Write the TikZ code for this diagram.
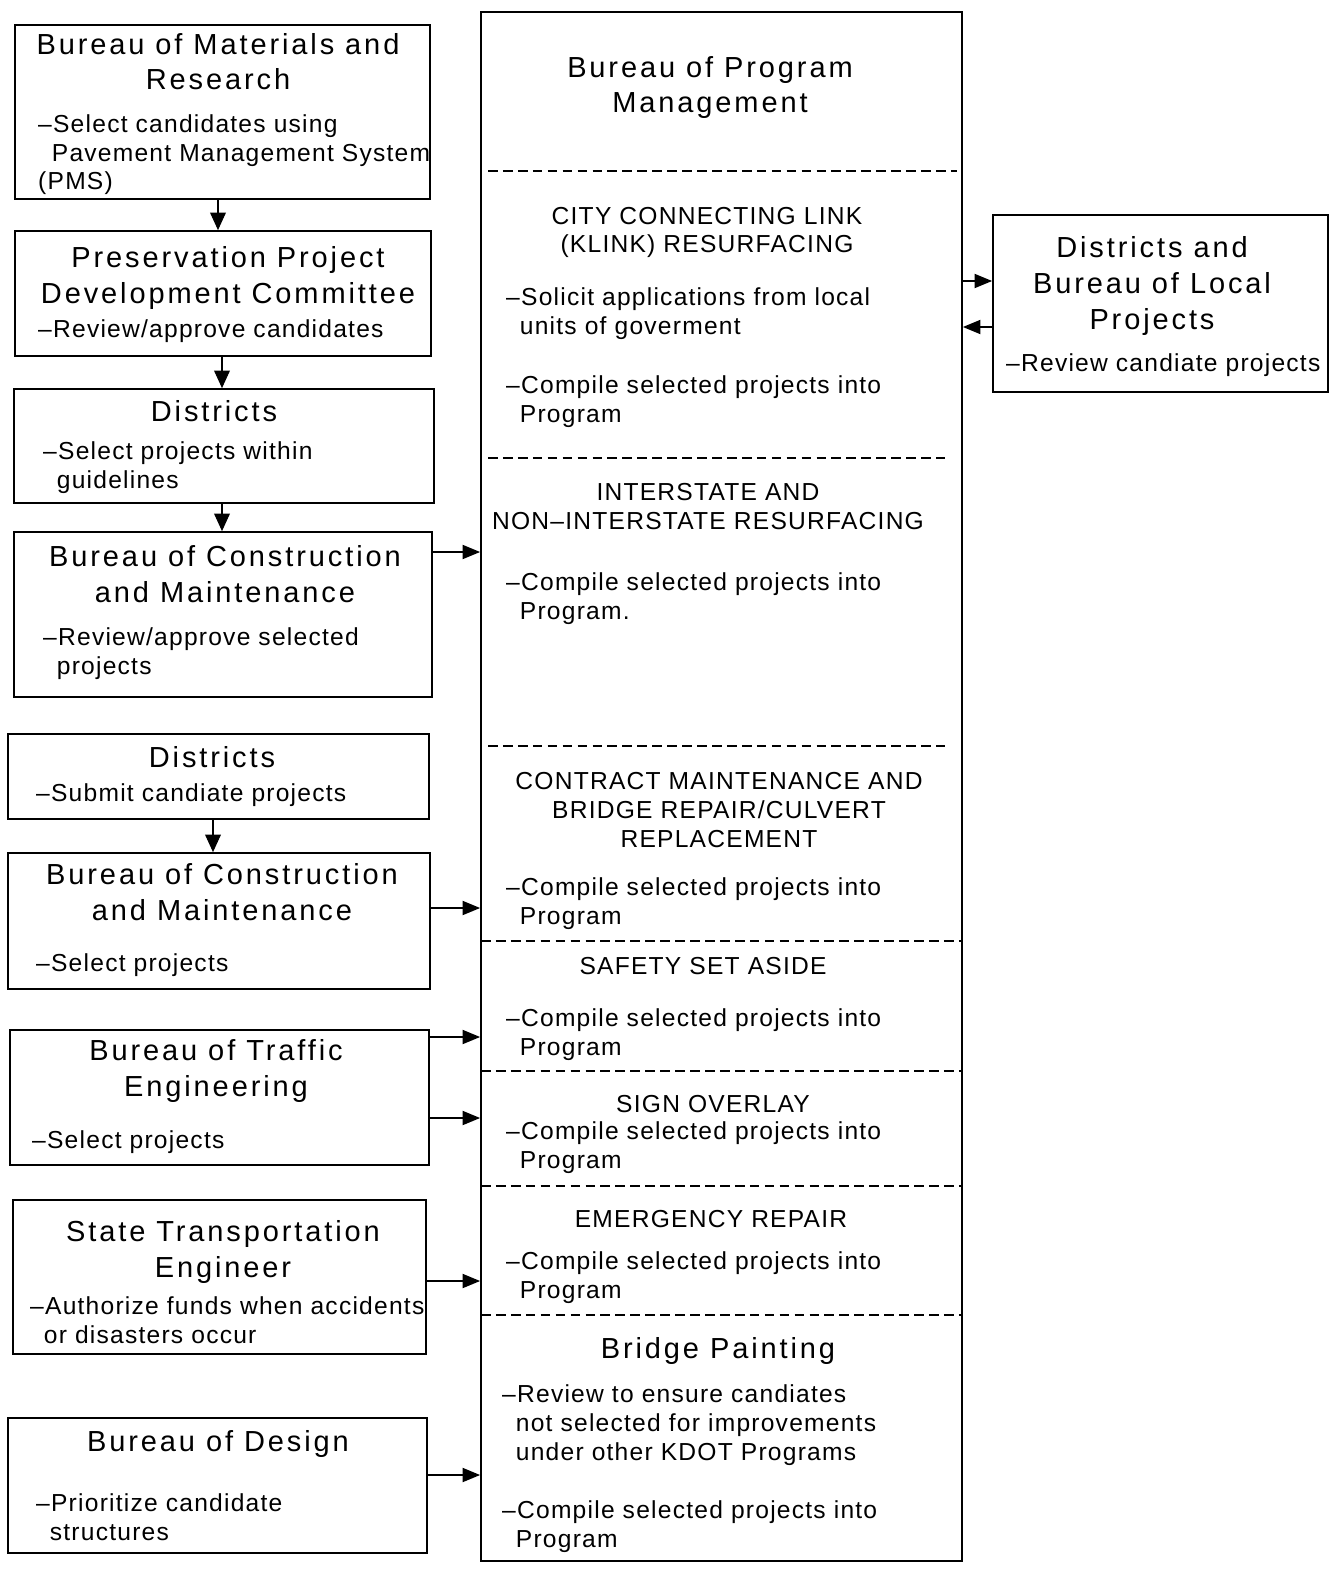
\documentclass[tikz,border=0pt]{standalone}
\usepackage{fontspec}
\setmainfont{Liberation Sans}
\newfontfamily\headfnt{Liberation Sans}[LetterSpace=10]
\newfontfamily\bodyfnt{Liberation Sans}[LetterSpace=5]
\usetikzlibrary{arrows.meta,fit}
\tikzset{
  unit/.style={draw,line width=1pt,inner sep=0pt},
  head/.style={align=center,anchor=base,font={\headfnt\fontsize{16.5}{20.4}\selectfont}},
  caps/.style={align=center,anchor=base,font={\bodyfnt\fontsize{14}{16.4}\selectfont}},
  duty/.style={align=left,anchor=base west,font={\bodyfnt\fontsize{14}{16.4}\selectfont}},
  divider/.style={line width=0.8pt,dash pattern=on 5.5pt off 3pt},
  feed/.style={line width=1pt,-{Triangle[length=10pt,width=8pt]}},
  down/.style={line width=0.6pt,-{Triangle[length=10pt,width=9pt]}},
}
\newcommand{\ind}{\phantom{–}}
\begin{document}
\begin{tikzpicture}[x=0.02cm,y=-0.02cm]
  \useasboundingbox (0,0) rectangle (1334,1571);

  % left column (text nodes sit on the baseline of their last line)
  \node[unit, fit={(15,25) (430,199)}] (bmr) {};
  \node[head] (bmrT) at (218,90) {Bureau of Materials and\\Research};
  \node[duty] (bmrB) at (32,190) {–Select candidates using\\\ind Pavement Management System\\(PMS)};

  \node[unit, fit={(15,231) (431,356)}] (ppdc) {};
  \node[head] (ppdcT) at (228,303) {Preservation Project\\Development Committee};
  \node[duty] (ppdcB) at (32,337) {–Review/approve candidates};

  \node[unit, fit={(14,389) (434,503)}] (dis1) {};
  \node[head] (dis1T) at (214,421) {Districts};
  \node[duty] (dis1B) at (37,488) {–Select projects within\\\ind guidelines};

  \node[unit, fit={(14,532) (432,697)}] (bcm1) {};
  \node[head] (bcm1T) at (225,602) {Bureau of Construction\\and Maintenance};
  \node[duty] (bcm1B) at (37,674) {–Review/approve selected\\\ind projects};

  \node[unit, fit={(8,734) (429,819)}] (dis2) {};
  \node[head] (dis2T) at (212,767) {Districts};
  \node[duty] (dis2B) at (30,801) {–Submit candiate projects};

  \node[unit, fit={(8,853) (430,989)}] (bcm2) {};
  \node[head] (bcm2T) at (222,920) {Bureau of Construction\\and Maintenance};
  \node[duty] (bcm2B) at (30,971) {–Select projects};

  \node[unit, fit={(10,1030) (429,1165)}] (bte) {};
  \node[head] (bteT) at (216,1096) {Bureau of Traffic\\Engineering};
  \node[duty] (bteB) at (26,1148) {–Select projects};

  \node[unit, fit={(13,1200) (426,1354)}] (ste) {};
  \node[head] (steT) at (223,1277) {State Transportation\\Engineer};
  \node[duty] (steB) at (24,1343) {–Authorize funds when accidents\\\ind or disasters occur};

  \node[unit, fit={(8,1418) (427,1553)}] (bod) {};
  \node[head] (bodT) at (218,1451) {Bureau of Design};
  \node[duty] (bodB) at (30,1540) {–Prioritize candidate\\\ind structures};

  % program management column
  \node[unit, fit={(481,12) (962,1561)}] (bpm) {};
  \node[head] (bpmT) at (710,113) {Bureau of Program\\Management};
  \draw[divider] (488,171) -- (957,171);
  \node[caps] (klinkT) at (707,253) {CITY CONNECTING LINK\\(KLINK) RESURFACING};
  \node[duty] (klinkB) at (500,334) {–Solicit applications from local\\\ind units of goverment};
  \node[duty] (klinkC) at (500,422) {–Compile selected projects into\\\ind Program};
  \draw[divider] (488,458) -- (945,458);
  \node[caps] (intT) at (708,529) {INTERSTATE AND\\NON–INTERSTATE RESURFACING};
  \node[duty] (intB) at (500,619) {–Compile selected projects into\\\ind Program.};
  \draw[divider] (488,746) -- (945,746);
  \node[caps] (cmT) at (719,847) {CONTRACT MAINTENANCE AND\\BRIDGE REPAIR/CULVERT\\REPLACEMENT};
  \node[duty] (cmB) at (500,924) {–Compile selected projects into\\\ind Program};
  \draw[divider] (481,941) -- (962,941);
  \node[caps] (safT) at (703,974) {SAFETY SET ASIDE};
  \node[duty] (safB) at (500,1055) {–Compile selected projects into\\\ind Program};
  \draw[divider] (481,1071) -- (962,1071);
  \node[caps] (signT) at (713,1112) {SIGN OVERLAY};
  \node[duty] (signB) at (500,1168) {–Compile selected projects into\\\ind Program};
  \draw[divider] (481,1186) -- (962,1186);
  \node[caps] (emT) at (711,1227) {EMERGENCY REPAIR};
  \node[duty] (emB) at (500,1298) {–Compile selected projects into\\\ind Program};
  \draw[divider] (481,1315) -- (962,1315);
  \node[head] (bpT) at (718,1358) {Bridge Painting};
  \node[duty] (bpB) at (496,1460) {–Review to ensure candiates\\\ind not selected for improvements\\\ind under other KDOT Programs};
  \node[duty] (bpC) at (496,1547) {–Compile selected projects into\\\ind Program};

  % local projects
  \node[unit, fit={(993,215) (1328,392)}] (blp) {};
  \node[head] (blpT) at (1152,329) {Districts and\\Bureau of Local\\Projects};
  \node[duty] (blpB) at (1000,371) {–Review candiate projects};

  % arrows
  \draw[down] (218,0 |- bmr.south) -- (218,0 |- ppdc.north);
  \draw[down] (222,0 |- ppdc.south) -- (222,0 |- dis1.north);
  \draw[down] (222,0 |- dis1.south) -- (222,0 |- bcm1.north);
  \draw[down] (213,0 |- dis2.south) -- (213,0 |- bcm2.north);
  \draw[feed] (bcm1.east |- 0,552) -- (bpm.west |- 0,552);
  \draw[feed] (bcm2.east |- 0,908) -- (bpm.west |- 0,908);
  \draw[feed] (bte.east |- 0,1037) -- (bpm.west |- 0,1037);
  \draw[feed] (bte.east |- 0,1118) -- (bpm.west |- 0,1118);
  \draw[feed] (ste.east |- 0,1281) -- (bpm.west |- 0,1281);
  \draw[feed] (bod.east |- 0,1475) -- (bpm.west |- 0,1475);
  \draw[feed] (bpm.east |- 0,281) -- (blp.west |- 0,281);
  \draw[feed] (blp.west |- 0,327) -- (bpm.east |- 0,327);
\end{tikzpicture}
\end{document}
